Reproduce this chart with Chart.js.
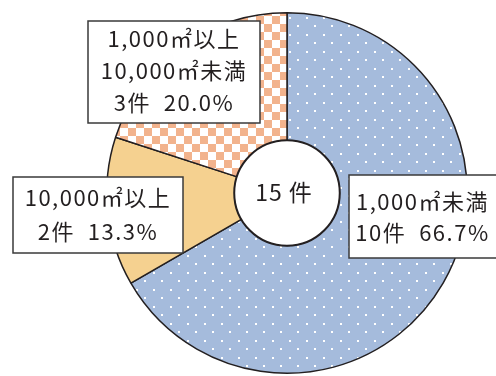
<!DOCTYPE html>
<html>
<head>
<meta charset="utf-8">
<script src="https://cdn.jsdelivr.net/npm/chart.js@4"></script>
<style>
  html, body { margin: 0; padding: 0; background: #fff; }
  canvas { display: block; }
</style>
</head>
<body>
<canvas id="pie" width="496" height="376"></canvas>
<script>
// data
const categories = ['1,000㎡未満', '10,000㎡以上', '1,000㎡以上\n10,000㎡未満'];
const counts = [10, 2, 3];
const percents = ['66.7%', '13.3%', '20.0%'];
const totalLabel = '15 件';

const INK = '#231f20';
const FONT = '"Noto Sans CJK JP", "Noto Sans", sans-serif';

// fill patterns
function dotPattern(ctx) {
  const c = document.createElement('canvas');
  c.width = 17; c.height = 17;
  const g = c.getContext('2d');
  g.fillStyle = '#a5bbdc';
  g.fillRect(0, 0, 17, 17);
  g.fillStyle = '#ffffff';
  g.fillRect(0, 0, 2, 2);
  g.fillRect(8, 8, 2, 2);
  return ctx.createPattern(c, 'repeat');
}
function checkerPattern(ctx) {
  const c = document.createElement('canvas');
  c.width = 16; c.height = 16;
  const g = c.getContext('2d');
  g.fillStyle = '#ffffff';
  g.fillRect(0, 0, 16, 16);
  g.fillStyle = '#f2b38d';
  g.fillRect(0, 0, 8, 8);
  g.fillRect(8, 8, 8, 8);
  return ctx.createPattern(c, 'repeat');
}

const canvas = document.getElementById('pie');
const ctx = canvas.getContext('2d');

// label boxes: [left, top, right, bottom, first line y, line gap]
const boxes = [
  [349, 175, 497, 258, 202, 31],
  [13, 177, 183, 253, 198, 34],
  [88, 21, 260, 123, 39, 32]
];

const labelPlugin = {
  id: 'labels',
  afterDraw(chart) {
    const c = chart.ctx;
    c.save();
    const arc = chart.getDatasetMeta(0).data[0];
    // thicker ring round the hole
    c.beginPath();
    c.arc(arc.x, arc.y, arc.innerRadius + 0.5, 0, Math.PI * 2);
    c.fillStyle = '#fff';
    c.fill();
    c.strokeStyle = INK;
    c.lineWidth = 2;
    c.stroke();

    // center text
    c.fillStyle = INK;
    c.font = '23px ' + FONT;
    c.textAlign = 'center';
    c.textBaseline = 'middle';
    c.letterSpacing = '1px';
    c.fillText(totalLabel, arc.x - 3, arc.y - 1);

    c.font = '22px ' + FONT;
    c.letterSpacing = '1.5px';
    categories.forEach((cat, i) => {
      const [l, t, r, b, y0, gap] = boxes[i];
      c.fillStyle = '#fff';
      c.fillRect(l, t, r - l, b - t);
      c.strokeStyle = '#3a3a3a';
      c.lineWidth = 1.5;
      c.strokeRect(l, t, r - l, b - t);
      const lines = cat.split('\n').concat(counts[i] + '件  ' + percents[i]);
      c.fillStyle = INK;
      const cx = (l + Math.min(r, 496)) / 2;
      lines.forEach((ln, k) => c.fillText(ln, cx, y0 + k * gap));
    });
    c.restore();
  }
};

new Chart(canvas, {
  type: 'doughnut',
  data: {
    labels: categories,
    datasets: [{
      data: counts,
      backgroundColor: [dotPattern(ctx), '#f5d190', checkerPattern(ctx)],
      borderColor: INK,
      borderWidth: 1.5,
      hoverOffset: 0
    }]
  },
  options: {
    responsive: false,
    devicePixelRatio: 1,
    animation: false,
    cutout: '29%',
    layout: { padding: { left: 106, right: 28, top: 12, bottom: 2 } },
    plugins: { legend: { display: false }, tooltip: { enabled: false } },
    events: []
  },
  plugins: [labelPlugin]
});
</script>
</body>
</html>
